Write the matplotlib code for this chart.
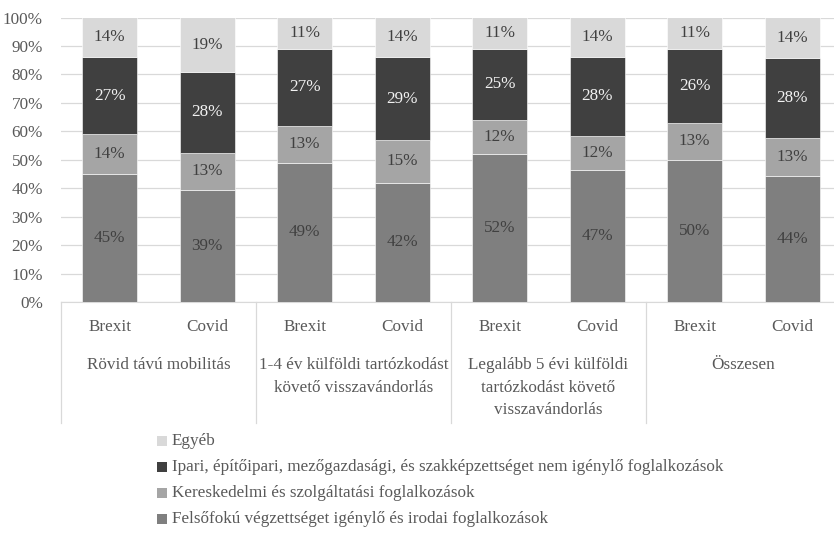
import matplotlib
matplotlib.use("Agg")
import matplotlib.pyplot as plt
import matplotlib.transforms as mtransforms
from matplotlib.patches import Rectangle
import numpy as np

plt.rcParams["font.family"] = ["Liberation Serif", "DejaVu Serif"]

groups = ["Rövid távú mobilitás",
          "1-4 év külföldi tartózkodást\nkövető visszavándorlás",
          "Legalább 5 évi külföldi\ntartózkodást követő\nvisszavándorlás",
          "Összesen"]
periods = ["Brexit", "Covid"]
series = ["Felsőfokú végzettséget igénylő és irodai foglalkozások",
          "Kereskedelmi és szolgáltatási foglalkozások",
          "Ipari, építőipari, mezőgazdasági, és szakképzettséget nem igénylő foglalkozások",
          "Egyéb"]
colors = ["#7f7f7f", "#a5a5a5", "#404040", "#d9d9d9"]
label_colors = ["#404040", "#404040", "#f2f2f2", "#404040"]

felsofoku = [45, 39, 49, 42, 52, 47, 50, 44]
kereskedelmi = [14, 13, 13, 15, 12, 12, 13, 13]
ipari = [27, 28, 27, 29, 25, 28, 26, 28]
egyeb = [14, 19, 11, 14, 11, 14, 11, 14]

values = np.array([felsofoku, kereskedelmi, ipari, egyeb], dtype=float)
shares = values / values.sum(axis=0) * 100

FS = 12.3
TXT = "#595959"
W, H = 834, 544
fig = plt.figure(figsize=(W / 100, H / 100), dpi=100)
left, right, top, bottom = 61, 841, 17.5, 302
ax = fig.add_axes([left / W, 1 - bottom / H, (right - left) / W, (bottom - top) / H])

x = np.arange(8)
base = np.zeros(8)
for i in range(4):
    ax.bar(x, shares[i], 0.565, bottom=base, color=colors[i], zorder=3,
           edgecolor="white", linewidth=0.4)
    for xi, b, s, v in zip(x, base, shares[i], values[i]):
        ax.text(xi, b + s / 2, "%d%%" % v, ha="center", va="center",
                color=label_colors[i], fontsize=FS, zorder=4)
    base += shares[i]

ax.set_xlim(-0.5, 7.5)
ax.set_ylim(0, 100)
ax.set_yticks(np.arange(0, 101, 10))
ax.set_yticklabels(["%d%%" % t for t in range(0, 101, 10)])
ax.tick_params(axis="y", length=0, pad=13, labelsize=FS, labelcolor=TXT)
ax.set_xticks([])
ax.grid(axis="y", color="#d9d9d9", linewidth=0.9, zorder=0)
for s in ["top", "right", "left"]:
    ax.spines[s].set_visible(False)
ax.spines["bottom"].set_color("#d9d9d9")
ax.spines["bottom"].set_zorder(1)

# two-level category axis below the bars
trans = mtransforms.blended_transform_factory(ax.transData, ax.transAxes)
px = 1 / (bottom - top)
for sep in [-0.5, 1.5, 3.5, 5.5, 7.5]:
    ax.plot([sep, sep], [0, -121 * px], transform=trans, color="#d9d9d9",
            linewidth=0.9, clip_on=False)
for xi in x:
    ax.text(xi, -25 * px, periods[xi % 2], transform=trans, ha="center", va="center",
            fontsize=FS, color=TXT)
for gi, g in enumerate(groups):
    ax.text(2 * gi + 0.5, -55 * px, g, transform=trans, ha="center", va="top",
            fontsize=FS, color=TXT, linespacing=1.55)

# legend, top entry first
for row, i in enumerate(range(3, -1, -1)):
    yc = 441 + 26 * row
    fig.add_artist(Rectangle((157 / W, 1 - (yc + 5) / H), 10 / W, 10 / H,
                             transform=fig.transFigure, facecolor=colors[i],
                             edgecolor="none"))
    fig.text(172 / W, 1 - yc / H, series[i], ha="left", va="center",
             fontsize=FS, color=TXT)

fig.savefig("out.png", dpi=100)
